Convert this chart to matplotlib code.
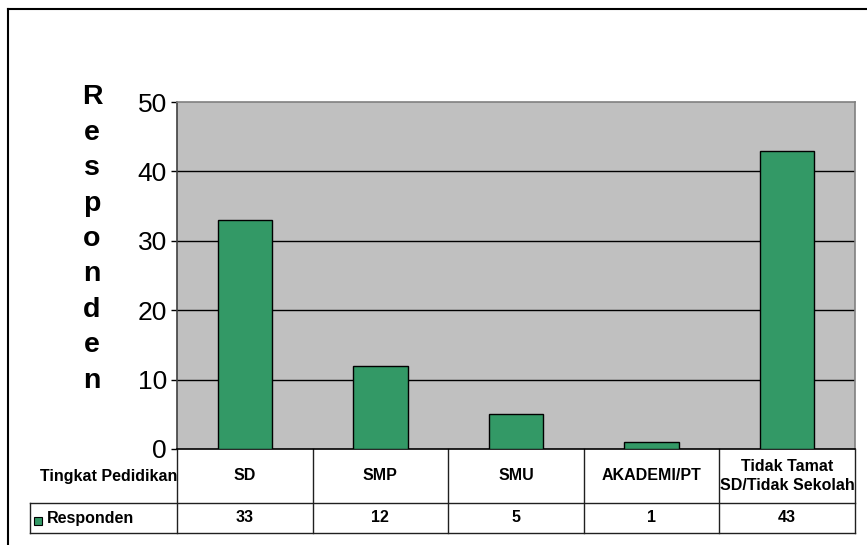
import numpy as np
import matplotlib.pyplot as plt
from matplotlib.lines import Line2D

categories = ['SD', 'SMP', 'SMU', 'AKADEMI/PT', 'Tidak Tamat\nSD/Tidak Sekolah']
responden = [33, 12, 5, 1, 43]
series_name = 'Responden'
row_title = 'Tingkat Pedidikan'
yticks = [0, 10, 20, 30, 40, 50]

W, H = 867, 545
fig = plt.figure(figsize=(W / 100, H / 100), dpi=100)

# plot area in pixel units
L, T, R, B = 177, 102, 855, 449
ax = fig.add_axes([L / W, 1 - B / H, (R - L) / W, (B - T) / H])
ax.set_facecolor('#C0C0C0')

x = np.arange(len(categories))
ax.bar(x, responden, width=0.4, color='#339966', edgecolor='black', linewidth=1, zorder=3)

ax.set_xlim(-0.5, len(categories) - 0.5)
ax.set_ylim(0, 50)
ax.set_yticks(yticks)
ax.set_yticklabels([str(t) for t in yticks], fontsize=19, family=['Liberation Sans', 'DejaVu Sans'])
ax.tick_params(axis='y', direction='out', length=4.3, width=1, pad=3, color='black')
ax.set_xticks([])
for t in yticks[1:-1]:
    ax.axhline(t, color='black', linewidth=1, zorder=1)

ax.spines['left'].set_color('#404040')
ax.spines['bottom'].set_color('black')
ax.spines['top'].set_color('#808080')
ax.spines['right'].set_color('#808080')
for s in ax.spines.values():
    s.set_linewidth(1.2)

# vertical stacked axis title
fig.text(92 / W, 1 - 239 / H, '\n'.join(series_name), ha='center', va='center',
         fontsize=20.5, fontweight='bold', linespacing=1.47,
         family=['Liberation Sans', 'DejaVu Sans'])

# data table under the axis
tr = ax.get_xaxis_transform()
def py(p):
    return -(p - B) / (B - T)

tfont = ['Liberation Sans', 'DejaVu Sans']
fs = 11.5
line_kw = dict(color='#202020', linewidth=1, transform=tr, clip_on=False)
for i in range(len(categories) + 1):
    ax.plot([i - 0.5, i - 0.5], [0, py(533)], **line_kw)
col_w = (R - L) / len(categories)
x_left = (30 - L) / col_w - 0.5
for yy in (503, 533):
    ax.plot([x_left, len(categories) - 0.5], [py(yy), py(yy)], **line_kw)
ax.plot([x_left, x_left], [py(503), py(533)], **line_kw)

for i, (c, v) in enumerate(zip(categories, responden)):
    ax.text(i, py(476), c, ha='center', va='center', fontsize=fs, fontweight='bold',
            transform=tr, family=tfont, linespacing=1.3)
    ax.text(i, py(518), str(v), ha='center', va='center', fontsize=fs, fontweight='bold',
            transform=tr, family=tfont)

ax.text(-0.5, py(476), row_title, ha='right', va='center', fontsize=fs, fontweight='bold',
        transform=tr, family=tfont)
ax.plot([(37.5 - L) / col_w - 0.5], [py(520.5)], marker='s', markersize=5.5,
        markerfacecolor='#339966', markeredgecolor='black', markeredgewidth=0.8,
        transform=tr, clip_on=False)
ax.text((47 - L) / col_w - 0.5, py(518), series_name, ha='left', va='center', fontsize=fs,
        fontweight='bold', transform=tr, family=tfont)

# chart area border
fig.add_artist(Line2D([8 / W, 1], [1 - 9 / H, 1 - 9 / H], color='black', linewidth=1.5))
fig.add_artist(Line2D([8 / W, 8 / W], [1 - 9 / H, 0], color='black', linewidth=1.5))

fig.savefig('out.png', dpi=100)
